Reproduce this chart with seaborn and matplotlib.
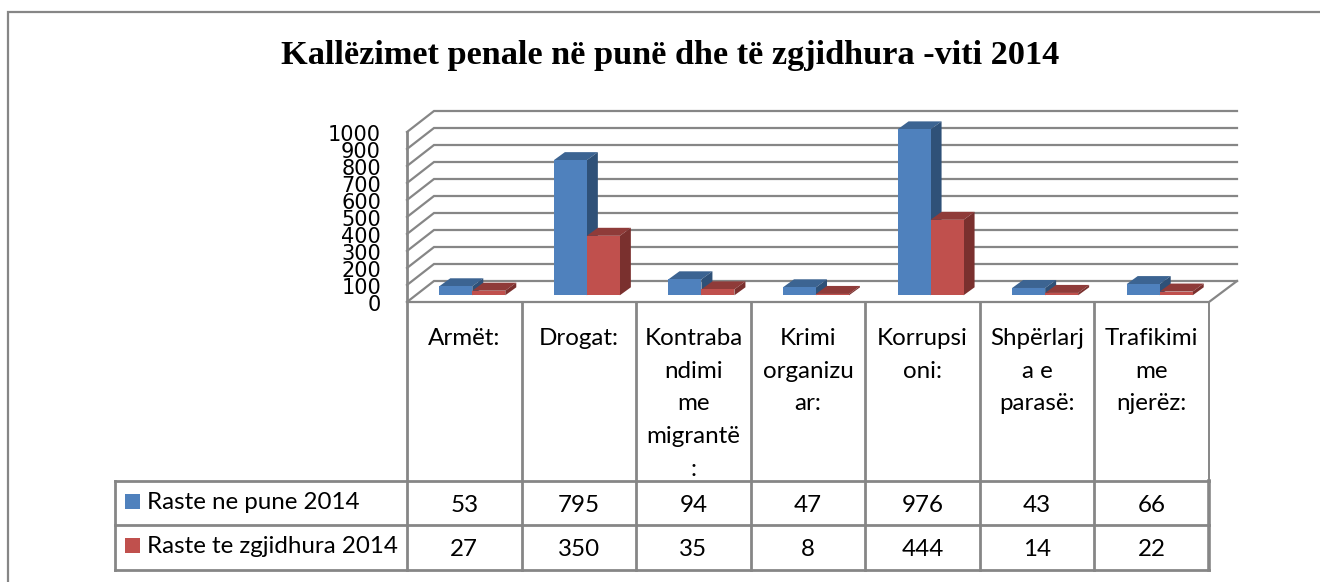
import matplotlib
matplotlib.use("Agg")
import matplotlib.pyplot as plt
from matplotlib.patches import Polygon, Rectangle
import pandas as pd
import seaborn as sns

categories = ["Armët:", "Drogat:", "Kontrabandimi me migrantë:", "Krimi organizuar:",
              "Korrupsioni:", "Shpërlarja e parasë:", "Trafikimi me njerëz:"]
category_lines = [["Armët:"], ["Drogat:"], ["Kontraba", "ndimi", "me", "migrantë", ":"],
                  ["Krimi", "organizu", "ar:"], ["Korrupsi", "oni:"],
                  ["Shpërlarj", "a e", "parasë:"], ["Trafikimi", "me", "njerëz:"]]
series_names = ["Raste ne pune 2014", "Raste te zgjidhura 2014"]
raste_ne_pune = [53, 795, 94, 47, 976, 43, 66]
raste_zgjidhura = [27, 350, 35, 8, 444, 14, 22]
y_ticks = [0, 100, 200, 300, 400, 500, 600, 700, 800, 900, 1000]
title = "Kallëzimet penale në punë dhe të zgjidhura -viti 2014"

W, H = 1320, 582
GRAY = "#868686"
FRONT = ["#4F81BD", "#C0504D"]
TOP = ["#3C6492", "#8F3B39"]
SIDE = ["#2F5178", "#7A302E"]
TEXT_FONT = "Lato"
TEXT_SIZE = 17.4

sns.set_theme(style="white")
fig = plt.figure(figsize=(W / 100, H / 100), dpi=100, facecolor="white")

# overlay in pixel coords for walls and the data table
bg = fig.add_axes([0, 0, 1, 1], zorder=0)
bg.set_xlim(0, W)
bg.set_ylim(H, 0)
bg.set_axis_off()

def line(xs, ys, lw=1.6):
    bg.plot(xs, ys, color=GRAY, lw=lw, solid_capstyle="projecting", solid_joinstyle="miter", clip_on=False)

# outer border, no right or bottom edge in the crop
line([7.5, 7.5, W], [H, 12, 12])

wall_left, wall_right = 407, 1209
floor_front, floor_back = 302, 281
px_per_unit = 0.17
for t in y_ticks:
    front_y = floor_front - t * px_per_unit
    back_y = floor_back - t * px_per_unit
    line([wall_left, 434, 1237], [front_y, back_y, back_y])
    bg.text(381, front_y + 3, str(t), ha="right", va="center", fontsize=15,
            family="DejaVu Sans", color="black")
line([wall_left, wall_right, 1237], [floor_front, floor_front, floor_back])

# table
col_w = (wall_right - wall_left) / len(categories)
row_y = [481, 525, 569.5]
line([wall_left, wall_left], [132, row_y[2]], lw=2)
for i in range(1, len(categories)):
    line([wall_left + i * col_w] * 2, [floor_front, row_y[2]], lw=2)
line([wall_right, wall_right], [floor_front, row_y[0]], lw=1.4)
line([wall_right, wall_right], [row_y[0], row_y[2]], lw=2.6)
for y in row_y:
    line([115, wall_right], [y, y], lw=2)
line([115, 115], [row_y[0], row_y[2]], lw=2)

for i, lines in enumerate(category_lines):
    cx = wall_left + (i + 0.5) * col_w
    for j, s in enumerate(lines):
        bg.text(cx, 338.5 + j * 32.7, s, ha="center", va="center", fontsize=TEXT_SIZE,
                family=TEXT_FONT, color="black")

for r, (name, vals) in enumerate(zip(series_names, [raste_ne_pune, raste_zgjidhura])):
    cy = (row_y[r] + row_y[r + 1]) / 2
    bg.add_patch(Rectangle((125, cy - 9), 15, 15, color=FRONT[r], lw=0))
    bg.text(147, cy - 0.5, name, ha="left", va="center", fontsize=TEXT_SIZE, family=TEXT_FONT, color="black")
    for i, v in enumerate(vals):
        bg.text(wall_left + (i + 0.5) * col_w, cy + 2, str(v), ha="center", va="center",
                fontsize=TEXT_SIZE, family=TEXT_FONT, color="black")

bg.text(670, 55.5, title, ha="center", va="center", fontsize=24.7, fontweight="bold",
        family="Liberation Serif", color="black")

# bars sit a bit inside the floor, so their axes is shifted from the wall
bar_left, bar_base = 415, 295.3
ax = fig.add_axes([bar_left / W, 1 - bar_base / H, (wall_right - wall_left) / W,
                   1000 * px_per_unit / H], zorder=1)
df = pd.DataFrame({
    "category": categories * 2,
    "series": [series_names[0]] * 7 + [series_names[1]] * 7,
    "value": raste_ne_pune + raste_zgjidhura,
})
sns.barplot(data=df, x="category", y="value", hue="series", hue_order=series_names,
            palette=FRONT, saturation=1, width=0.576, gap=0, legend=False, ax=ax)
ax.set_xlim(-0.5, 6.5)
ax.set_ylim(0, 1000)
ax.set_axis_off()
ax.patch.set_alpha(0)

# fake 3d depth faces from the drawn bars
dx = 11 / col_w
dy = 8 / px_per_unit
for n, bar in enumerate(ax.patches):
    s = 0 if n < 7 else 1
    x0, x1, h = bar.get_x(), bar.get_x() + bar.get_width(), bar.get_height()
    bar.set_zorder(3 + 2 * s)
    bar.set_linewidth(0)
    ax.add_patch(Polygon([(x0, h), (x0 + dx, h + dy), (x1 + dx, h + dy), (x1, h)],
                         facecolor=TOP[s], lw=0, zorder=2 + 2 * s, clip_on=False))
    ax.add_patch(Polygon([(x1, 0), (x1 + dx, dy), (x1 + dx, h + dy), (x1, h)],
                         facecolor=SIDE[s], lw=0, zorder=2 + 2 * s, clip_on=False))

fig.savefig("out.png", dpi=100)
